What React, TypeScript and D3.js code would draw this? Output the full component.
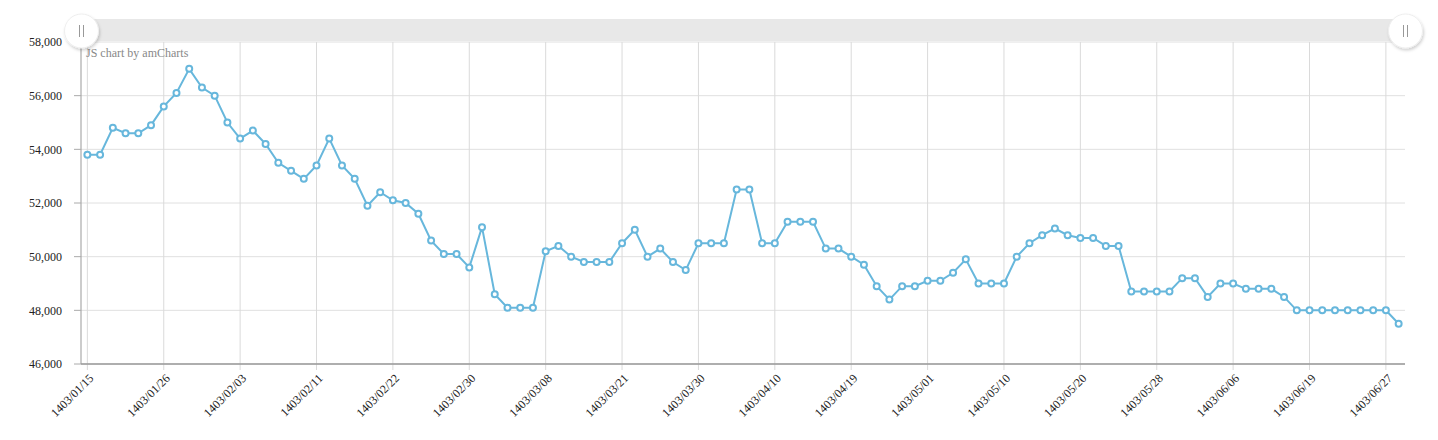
import React, { useEffect, useRef } from 'react';
import * as d3 from 'd3';

// trading days (Persian calendar)
const dates = [
    '1403/01/15', '1403/01/18', '1403/01/19', '1403/01/20', '1403/01/21', '1403/01/25',
    '1403/01/26', '1403/01/27', '1403/01/28', '1403/01/29', '1403/02/01', '1403/02/02',
    '1403/02/03', '1403/02/04', '1403/02/05', '1403/02/08', '1403/02/09', '1403/02/10',
    '1403/02/11', '1403/02/12', '1403/02/16', '1403/02/17', '1403/02/18', '1403/02/19',
    '1403/02/22', '1403/02/23', '1403/02/24', '1403/02/25', '1403/02/26', '1403/02/29',
    '1403/02/30', '1403/02/31', '1403/03/02', '1403/03/05', '1403/03/06', '1403/03/07',
    '1403/03/08', '1403/03/09', '1403/03/12', '1403/03/13', '1403/03/19', '1403/03/20',
    '1403/03/21', '1403/03/22', '1403/03/23', '1403/03/26', '1403/03/27', '1403/03/29',
    '1403/03/30', '1403/04/02', '1403/04/03', '1403/04/04', '1403/04/06', '1403/04/09',
    '1403/04/10', '1403/04/11', '1403/04/12', '1403/04/13', '1403/04/17', '1403/04/18',
    '1403/04/19', '1403/04/20', '1403/04/23', '1403/04/24', '1403/04/30', '1403/04/31',
    '1403/05/01', '1403/05/02', '1403/05/03', '1403/05/06', '1403/05/07', '1403/05/09',
    '1403/05/10', '1403/05/13', '1403/05/14', '1403/05/15', '1403/05/16', '1403/05/17',
    '1403/05/20', '1403/05/21', '1403/05/22', '1403/05/23', '1403/05/24', '1403/05/27',
    '1403/05/28', '1403/05/29', '1403/05/30', '1403/05/31', '1403/06/03', '1403/06/05',
    '1403/06/06', '1403/06/07', '1403/06/10', '1403/06/11', '1403/06/17', '1403/06/18',
    '1403/06/19', '1403/06/20', '1403/06/21', '1403/06/24', '1403/06/25', '1403/06/26',
    '1403/06/27', '1403/06/28',
];

const prices = [
    53800, 53800, 54800, 54600, 54600, 54900,
    55600, 56100, 57000, 56300, 56000, 55000,
    54400, 54700, 54200, 53500, 53200, 52900,
    53400, 54400, 53400, 52900, 51900, 52400,
    52100, 52000, 51600, 50600, 50100, 50100,
    49600, 51100, 48600, 48100, 48100, 48100,
    50200, 50400, 50000, 49800, 49800, 49800,
    50500, 51000, 50000, 50300, 49800, 49500,
    50500, 50500, 50500, 52500, 52500, 50500,
    50500, 51300, 51300, 51300, 50300, 50300,
    50000, 49700, 48900, 48400, 48900, 48900,
    49100, 49100, 49400, 49900, 49000, 49000,
    49000, 50000, 50500, 50800, 51050, 50800,
    50700, 50700, 50400, 50400, 48700, 48700,
    48700, 48700, 49200, 49200, 48500, 49000,
    49000, 48800, 48800, 48800, 48500, 48000,
    48000, 48000, 48000, 48000, 48000, 48000,
    48000, 47500,
];

const yTicks = [46000, 48000, 50000, 52000, 54000, 56000, 58000];
const labelEvery = 6;

export default function App() {
    const ref = useRef<SVGSVGElement>(null);

    useEffect(() => {
        if (!ref.current) return;
        const svg = d3.select(ref.current);
        svg.selectAll('*').remove();

        const width = 1438;
        const height = 440;
        const left = 81, right = 1405, top = 42, bottom = 364;
        const font = '"Liberation Serif", "Times New Roman", serif';
        const color = '#67b7dc';

        svg.attr('width', width).attr('height', height);

        const defs = svg.append('defs');
        const f = defs.append('filter').attr('id', 'gripShadow')
            .attr('x', '-50%').attr('y', '-50%').attr('width', '200%').attr('height', '200%');
        f.append('feDropShadow').attr('dx', 1).attr('dy', 2).attr('stdDeviation', 1.5)
            .attr('flood-color', '#000').attr('flood-opacity', 0.18);

        const x = d3.scaleBand<string>().domain(dates).range([left, right]).padding(0);
        const cx = (d: string) => (x(d) as number) + x.bandwidth() / 2;
        const y = d3.scaleLinear().domain([46000, 58000]).range([bottom, top]);

        const data = dates.map((d, i) => ({ date: d, value: prices[i] }));
        const labelled = dates.filter((_, i) => i % labelEvery === 0);

        // horizontal grid
        svg.append('g').selectAll('line').data(yTicks).enter().append('line')
            .attr('x1', left).attr('x2', right)
            .attr('y1', d => y(d)).attr('y2', d => y(d))
            .attr('stroke', '#e0e0e0').attr('stroke-width', 1);

        // vertical grid + ticks
        svg.append('g').selectAll('line').data(labelled).enter().append('line')
            .attr('x1', d => cx(d)).attr('x2', d => cx(d))
            .attr('y1', top).attr('y2', bottom + 6)
            .attr('stroke', '#dadada').attr('stroke-width', 1);

        // axes
        svg.append('line').attr('x1', left).attr('x2', left).attr('y1', top).attr('y2', bottom)
            .attr('stroke', '#999').attr('stroke-width', 1);
        svg.append('g').selectAll('line').data(yTicks).enter().append('line')
            .attr('x1', left - 7).attr('x2', left)
            .attr('y1', d => y(d)).attr('y2', d => y(d))
            .attr('stroke', '#aaa');
        svg.append('line').attr('x1', left).attr('x2', right).attr('y1', bottom).attr('y2', bottom)
            .attr('stroke', '#999').attr('stroke-width', 1.5);

        // y labels
        svg.append('g').selectAll('text').data(yTicks).enter().append('text')
            .attr('x', left - 19).attr('y', d => y(d))
            .attr('dy', '0.35em').attr('text-anchor', 'end')
            .attr('font-family', font).attr('font-size', 12).attr('fill', '#222')
            .text(d => d3.format(',')(d));

        // x labels
        svg.append('g').selectAll('text').data(labelled).enter().append('text')
            .attr('transform', d => `translate(${cx(d) + 4},${bottom + 12}) rotate(-45)`)
            .attr('dy', '0.35em').attr('text-anchor', 'end')
            .attr('font-family', font).attr('font-size', 12).attr('fill', '#222')
            .text(d => d);

        // line
        const line = d3.line<{ date: string; value: number }>()
            .x(d => cx(d.date)).y(d => y(d.value));
        svg.append('path').datum(data)
            .attr('d', line).attr('fill', 'none')
            .attr('stroke', color).attr('stroke-width', 2);

        svg.append('g').selectAll('circle').data(data).enter().append('circle')
            .attr('cx', d => cx(d.date)).attr('cy', d => y(d.value))
            .attr('r', 3).attr('fill', '#fff')
            .attr('stroke', color).attr('stroke-width', 2);

        // credit
        svg.append('text').attr('x', 86).attr('y', 57)
            .attr('font-family', font).attr('font-size', 12).attr('fill', '#888')
            .text('JS chart by amCharts');

        // scrollbar
        svg.append('rect').attr('x', left).attr('y', 19).attr('width', right - left).attr('height', 22)
            .attr('fill', '#e8e8e8');
        [left, right].forEach(gx => {
            const g = svg.append('g').attr('transform', `translate(${gx + 0.5},31)`);
            g.append('circle').attr('r', 17).attr('fill', '#fff')
                .attr('stroke', '#eee').attr('filter', 'url(#gripShadow)');
            g.append('line').attr('x1', -2).attr('x2', -2).attr('y1', -6).attr('y2', 6)
                .attr('stroke', '#999').attr('stroke-width', 1);
            g.append('line').attr('x1', 2).attr('x2', 2).attr('y1', -6).attr('y2', 6)
                .attr('stroke', '#999').attr('stroke-width', 1);
        });
    }, []);

    return <svg ref={ref} style={{ position: 'absolute', left: 0, top: 0 }} />;
}
